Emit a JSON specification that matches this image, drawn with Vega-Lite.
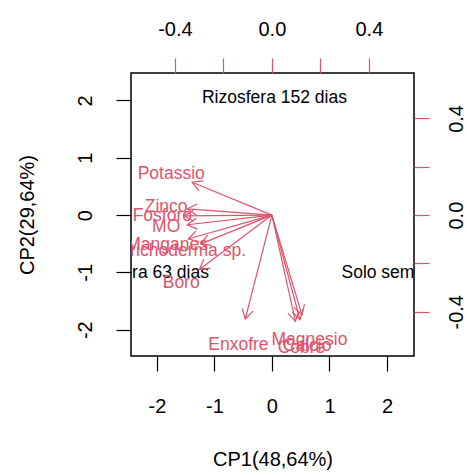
{
  "$schema": "https://vega.github.io/schema/vega-lite/v6.json",
  "width": 283,
  "height": 283,
  "autosize": {"type": "none"},
  "padding": {"left": 131, "top": 73, "right": 53, "bottom": 120},
  "background": "white",
  "config": {
    "font": "Liberation Sans",
    "view": {"stroke": "black", "strokeWidth": 1.5},
    "axis": {
      "grid": false, "domain": false, "tickSize": 15, "tickWidth": 1.2,
      "labelFontSize": 20, "labelColor": "black", "labelFont": "Liberation Sans",
      "labelFlush": false, "labelOverlap": false,
      "titleFontSize": 20, "titleFontWeight": "normal", "titleColor": "black", "titleFont": "Liberation Sans"
    }
  },
  "datasets": {
    "scores": [
      {"obs": "Rizosfera 152 dias", "cp1": 0.044, "cp2": 2.04},
      {"obs": "Rizosfera 63 dias", "cp1": -2.27, "cp2": -1.01},
      {"obs": "Solo sem planta", "cp1": 2.30, "cp2": -1.01}
    ],
    "vars": [
      {"var": "Potassio", "lx": -0.415, "ly": 0.169, "ax": -0.329, "ay": 0.136, "ang": -67.5},
      {"var": "Zinco", "lx": -0.436, "ly": 0.033, "ax": -0.349, "ay": 0.026, "ang": -85.7},
      {"var": "Fosforo", "lx": -0.452, "ly": -0.004, "ax": -0.362, "ay": -0.003, "ang": -90.5},
      {"var": "MO", "lx": -0.436, "ly": -0.05, "ax": -0.349, "ay": -0.04, "ang": -96.5},
      {"var": "Manganes", "lx": -0.432, "ly": -0.124, "ax": -0.345, "ay": -0.099, "ang": -106},
      {"var": "Trichoderma sp.", "lx": -0.366, "ly": -0.149, "ax": -0.293, "ay": -0.119, "ang": -112},
      {"var": "Boro", "lx": -0.374, "ly": -0.281, "ax": -0.299, "ay": -0.225, "ang": -127},
      {"var": "Enxofre", "lx": -0.138, "ly": -0.537, "ax": -0.11, "ay": -0.43, "ang": -165.6},
      {"var": "Magnesio", "lx": 0.155, "ly": -0.517, "ax": 0.124, "ay": -0.413, "ang": 163.3},
      {"var": "Calcio", "lx": 0.145, "ly": -0.541, "ax": 0.116, "ay": -0.433, "ang": 165},
      {"var": "Cobre", "lx": 0.122, "ly": -0.55, "ax": 0.097, "ay": -0.44, "ang": 167.6}
    ]
  },
  "layer": [
    {
      "data": {"name": "scores"},
      "mark": {"type": "text", "clip": true, "fontSize": 17.5, "color": "black", "font": "Liberation Sans"},
      "encoding": {
        "x": {
          "field": "cp1", "type": "quantitative",
          "scale": {"domain": [-2.45, 2.47], "nice": false, "zero": false},
          "axis": {
            "orient": "bottom", "values": [-2, -1, 0, 1, 2], "title": "CP1(48,64%)",
            "labelExpr": "(datum.value < 0 ? '-' : '') + format(abs(datum.value), 'd')",
            "tickColor": "black", "labelBaseline": "alphabetic", "labelPadding": 41,
            "titleBaseline": "alphabetic", "titlePadding": 49
          }
        },
        "y": {
          "field": "cp2", "type": "quantitative",
          "scale": {"domain": [-2.46, 2.48], "nice": false, "zero": false},
          "axis": {
            "orient": "left", "values": [-2, -1, 0, 1, 2], "title": "CP2(29,64%)",
            "labelExpr": "(datum.value < 0 ? '-' : '') + format(abs(datum.value), 'd')",
            "tickColor": "black", "labelAngle": -90, "labelAlign": "center", "labelBaseline": "alphabetic",
            "labelPadding": 25, "titleBaseline": "alphabetic", "titlePadding": 42
          }
        },
        "text": {"field": "obs"}
      }
    },
    {
      "data": {"name": "vars"},
      "layer": [
        {
          "mark": {"type": "rule", "color": "#DF536B", "strokeWidth": 1.2},
          "encoding": {
            "x": {
              "field": "ax", "type": "quantitative",
              "scale": {"domain": [-0.581, 0.586], "nice": false, "zero": false},
              "axis": {
                "orient": "top", "title": null, "values": [-0.4, -0.2, 0, 0.2, 0.4],
                "labelExpr": "abs(datum.value) < 0.1 || abs(datum.value) > 0.3 ? (datum.value < 0 ? '-' : '') + format(abs(datum.value), '.1f') : ''",
                "tickColor": "#DF536B", "labelBaseline": "alphabetic", "labelPadding": 23
              }
            },
            "x2": {"datum": 0},
            "y": {
              "field": "ay", "type": "quantitative",
              "scale": {"domain": [-0.583, 0.588], "nice": false, "zero": false},
              "axis": {
                "orient": "right", "title": null, "values": [-0.4, -0.2, 0, 0.2, 0.4],
                "labelExpr": "abs(datum.value) < 0.1 || abs(datum.value) > 0.3 ? (datum.value < 0 ? '-' : '') + format(abs(datum.value), '.1f') : ''",
                "tickColor": "#DF536B", "labelAngle": -90, "labelAlign": "center", "labelBaseline": "alphabetic",
                "labelPadding": 33
              }
            },
            "y2": {"datum": 0}
          }
        },
        {
          "mark": {"type": "point", "shape": "M-0.5,0.866L0,0L0.5,0.866", "filled": false, "color": "#DF536B", "strokeWidth": 1.2, "size": 484, "opacity": 1},
          "encoding": {
            "x": {"field": "ax", "type": "quantitative", "axis": {"title": null}},
            "y": {"field": "ay", "type": "quantitative", "axis": {"title": null}},
            "angle": {"field": "ang", "type": "quantitative", "scale": null}
          }
        },
        {
          "mark": {"type": "text", "fontSize": 17.5, "color": "#DF536B", "font": "Liberation Sans", "clip": true},
          "encoding": {
            "x": {"field": "lx", "type": "quantitative", "axis": {"title": null}},
            "y": {"field": "ly", "type": "quantitative", "axis": {"title": null}},
            "text": {"field": "var"}
          }
        }
      ]
    }
  ],
  "resolve": {"scale": {"x": "independent", "y": "independent"}}
}
